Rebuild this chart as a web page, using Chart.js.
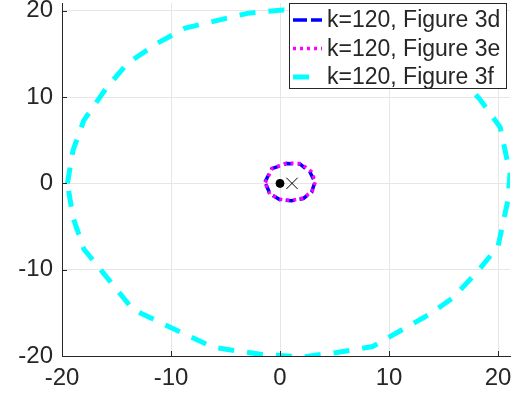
<!DOCTYPE html>
<html>
<head>
<meta charset="utf-8">
<script src="https://cdn.jsdelivr.net/npm/chart.js@4/dist/chart.umd.min.js"></script>
<style>
  html, body { margin: 0; padding: 0; background: #fff; }
  #wrap { width: 515px; height: 403px; }
</style>
</head>
<body>
<div id="wrap"><canvas id="orbitChart"></canvas></div>
<script>
// values
const fig3fX = [-19.5, -19.0, -18.0, -15.9, -14.0, -11.3, -8.7, -3.0, 0.3, 4.5, 9.0, 13.0, 16.0, 18.3, 20.2, 21.1, 20.9, 20.0, 18.0, 15.8, 13.8, 8.5, 5.2, 2.1, -1.8, -6.1, -9.2, -13.5, -16.2, -18.0, -19.0, -19.5];
const fig3fY = [0, 3.8, 7.3, 11.1, 13.9, 16.2, 18.0, 19.7, 20.1, 19.6, 18.2, 15.8, 12.8, 9.8, 6.5, 1.1, -2.0, -7.3, -10.4, -13.3, -15.1, -18.9, -19.6, -20.1, -19.8, -19.0, -17.2, -14.6, -10.4, -7.6, -3.9, 0];

const fig3dX = [-1.38, -0.76, 0.61, 1.83, 2.75, 3.2, 2.9, 2.14, 1.07, 0, -0.92, -1.38];
const fig3dY = [0.15, 1.7, 2.3, 2.25, 1.31, 0.15, -1.0, -1.75, -2.0, -1.9, -1.2, 0.15];

const fig3eX = [-1.35, -0.7, 0.6, 1.9, 2.85, 3.25, 2.95, 2.1, 1.0, 0, -0.95, -1.35];
const fig3eY = [0.1, 1.75, 2.35, 2.3, 1.4, 0.2, -0.95, -1.7, -2.0, -1.85, -1.25, 0.1];

const dotX = [0], dotY = [0];
const crossX = [1.1], crossY = [0];

const seriesLabels = ["k=120, Figure 3d", "k=120, Figure 3e", "k=120, Figure 3f"];
const tickValues = [-20, -10, 0, 10, 20];

function toPoints(xs, ys) {
  return xs.map((x, i) => ({ x: x, y: ys[i] }));
}

const axisColor = "#262626";
const tickFont = { family: "Liberation Sans, Arial, sans-serif", size: 24 };

// legend drawn inside the plot, top right, like the original
const boxLegend = {
  id: "boxLegend",
  afterDraw(chart) {
    const ctx = chart.ctx;
    const area = chart.chartArea;
    const items = chart.data.datasets.filter(d => d.label);
    const left = 289, top = area.top, right = 507, rowH = 28.5;
    const bottom = top + 86;
    ctx.save();
    ctx.fillStyle = "#fff";
    ctx.fillRect(left, top, right - left, bottom - top);
    ctx.strokeStyle = axisColor;
    ctx.lineWidth = 1;
    ctx.setLineDash([]);
    ctx.strokeRect(left + 0.5, top + 0.5, right - left - 1, bottom - top - 1);
    ctx.font = "23px Liberation Sans, Arial, sans-serif";
    ctx.textBaseline = "middle";
    items.forEach((d, i) => {
      const y = top + 17 + i * rowH;
      ctx.strokeStyle = d.borderColor;
      ctx.lineWidth = d.borderWidth;
      ctx.setLineDash(d.legendDash || d.borderDash || []);
      ctx.beginPath();
      ctx.moveTo(293, y);
      ctx.lineTo(322, y);
      ctx.stroke();
      ctx.setLineDash([]);
      ctx.fillStyle = axisColor;
      ctx.fillText(d.label, 327, y + 1);
    });

    // inward tick marks
    const xs = chart.scales.x, ys = chart.scales.y;
    ctx.strokeStyle = axisColor;
    ctx.lineWidth = 1;
    tickValues.forEach(v => {
      const px = Math.round(xs.getPixelForValue(v)) + 0.5;
      ctx.beginPath();
      ctx.moveTo(px, area.bottom);
      ctx.lineTo(px, area.bottom - 5);
      ctx.stroke();
      const py = Math.round(ys.getPixelForValue(v)) + 0.5;
      ctx.beginPath();
      ctx.moveTo(area.left, py);
      ctx.lineTo(area.left + 5, py);
      ctx.stroke();
    });
    ctx.restore();
  }
};

function keepTicks(scale) {
  scale.ticks = tickValues.map(v => ({ value: v }));
}

function noPadding(s) {
  s.paddingTop = 0;
  s.paddingBottom = 0;
  s.paddingLeft = 0;
  s.paddingRight = 0;
}

new Chart(document.querySelector("#orbitChart").getContext("2d"), {
  type: "scatter",
  data: {
    datasets: [
      {
        label: null,
        data: toPoints(crossX, crossY),
        pointStyle: "crossRot",
        pointRadius: 8,
        borderColor: "#000",
        borderWidth: 1,
        showLine: false,
        order: 0
      },
      {
        label: null,
        data: toPoints(dotX, dotY),
        pointStyle: "circle",
        pointRadius: 4,
        backgroundColor: "#000",
        borderColor: "#000",
        borderWidth: 1,
        showLine: false,
        order: 0
      },
      {
        label: seriesLabels[0],
        data: toPoints(fig3dX, fig3dY),
        borderColor: "#0000ff",
        borderWidth: 3.5,
        borderDash: [9, 5],
        legendDash: [14, 4],
        showLine: true,
        pointRadius: 0,
        order: 2
      },
      {
        label: seriesLabels[1],
        data: toPoints(fig3eX, fig3eY),
        borderColor: "#ff00ff",
        borderWidth: 3.5,
        borderDash: [3, 4],
        showLine: true,
        pointRadius: 0,
        order: 1
      },
      {
        label: seriesLabels[2],
        data: toPoints(fig3fX, fig3fY),
        borderColor: "#00ffff",
        borderWidth: 5,
        borderDash: [16, 13],
        showLine: true,
        pointRadius: 0,
        order: 3
      }
    ]
  },
  options: {
    responsive: true,
    maintainAspectRatio: false,
    animation: false,
    layout: { autoPadding: false, padding: { top: 3, right: 5, left: 0, bottom: 0 } },
    plugins: {
      legend: { display: false },
      tooltip: { enabled: false }
    },
    scales: {
      x: {
        type: "linear",
        min: -20,
        max: 21.1,
        afterBuildTicks: keepTicks,
        afterFit: s => { s.height = 47; noPadding(s); },
        grid: { color: "#e6e6e6", drawTicks: false },
        border: { color: axisColor, width: 1 },
        ticks: { color: axisColor, font: tickFont, padding: 8, maxRotation: 0 }
      },
      y: {
        type: "linear",
        min: -20,
        max: 20.9,
        afterBuildTicks: keepTicks,
        afterFit: s => { s.width = 62; noPadding(s); },
        grid: { color: "#e6e6e6", drawTicks: false },
        border: { color: axisColor, width: 1 },
        ticks: { color: axisColor, font: tickFont, padding: 9 }
      }
    }
  },
  plugins: [boxLegend]
});
</script>
</body>
</html>
